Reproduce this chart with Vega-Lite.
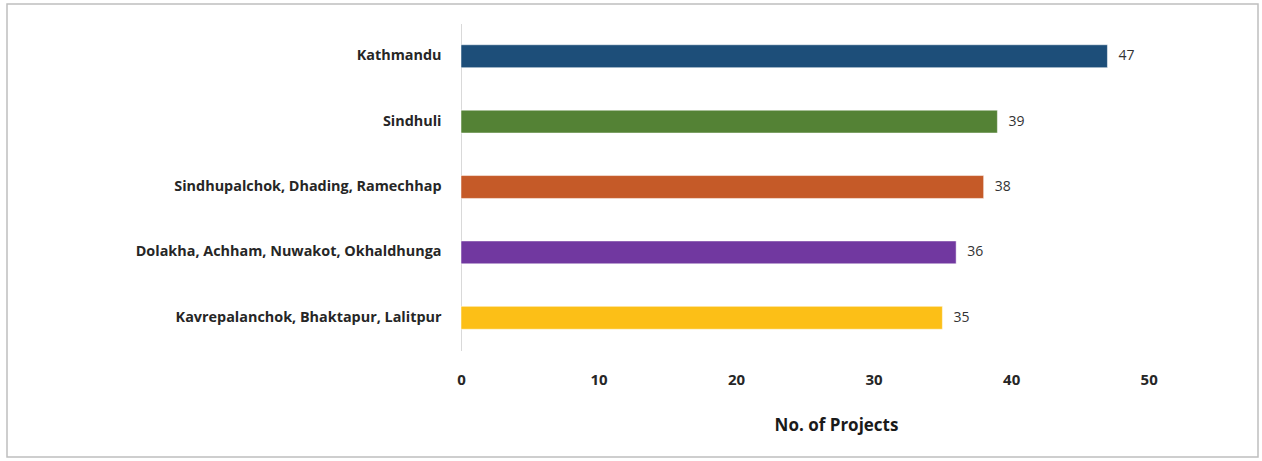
{
  "$schema": "https://vega.github.io/schema/vega-lite/v6.json",
  "width": 1251,
  "height": 453,
  "autosize": {"type": "none"},
  "padding": {"left": 7, "top": 4, "right": 4, "bottom": 4},
  "background": "white",
  "config": {"view": {"stroke": "#bfbfbf", "strokeWidth": 1.5}, "font": "Open Sans"},
  "data": {"values": [
    {"district": "Kathmandu", "projects": 47, "color": "#1d4e79"},
    {"district": "Sindhuli", "projects": 39, "color": "#548235"},
    {"district": "Sindhupalchok, Dhading, Ramechhap", "projects": 38, "color": "#c55a28"},
    {"district": "Dolakha, Achham, Nuwakot, Okhaldhunga", "projects": 36, "color": "#7138a0"},
    {"district": "Kavrepalanchok, Bhaktapur, Lalitpur", "projects": 35, "color": "#fcbf17"}
  ]},
  "encoding": {
    "y": {
      "field": "district", "type": "nominal", "sort": null,
      "scale": {"range": [19.5, 346.5], "paddingInner": 0.65, "paddingOuter": 0.325},
      "axis": {
        "title": null, "offset": -454, "ticks": false, "domainColor": "#d9d9d9", "domainWidth": 1,
        "labelFont": "Open Sans", "labelFontWeight": "bold", "labelFontSize": 14.4, "labelColor": "#262626",
        "labelPadding": 20, "labelLimit": 400
      }
    },
    "x": {
      "field": "projects", "type": "quantitative",
      "scale": {"domain": [0, 50], "range": [454, 1141.7], "nice": false},
      "axis": {
        "values": [0, 10, 20, 30, 40, 50], "offset": -106.5, "domain": false, "ticks": false, "grid": false,
        "labelFlush": false, "labelOverlap": false,
        "labelFont": "Open Sans", "labelFontWeight": "bold", "labelFontSize": 15, "labelColor": "#262626",
        "labelPadding": 22,
        "title": "No. of Projects", "titleFont": "Open Sans", "titleFontWeight": "bold", "titleFontSize": 17,
        "titleColor": "#1a1a1a", "titleX": 829, "titleY": 74.5, "titleBaseline": "middle", "titleAnchor": null, "titleAlign": "center"
      }
    }
  },
  "layer": [
    {"mark": {"type": "bar", "stroke": "#ffffff", "strokeOpacity": 0.5, "strokeWidth": 1},
     "encoding": {"color": {"field": "color", "type": "nominal", "scale": null, "legend": null}}},
    {"mark": {"type": "text", "align": "left", "dx": 11, "font": "Open Sans", "fontSize": 14, "color": "#333333", "baseline": "middle"},
     "encoding": {"text": {"field": "projects", "type": "quantitative"}}}
  ]
}
